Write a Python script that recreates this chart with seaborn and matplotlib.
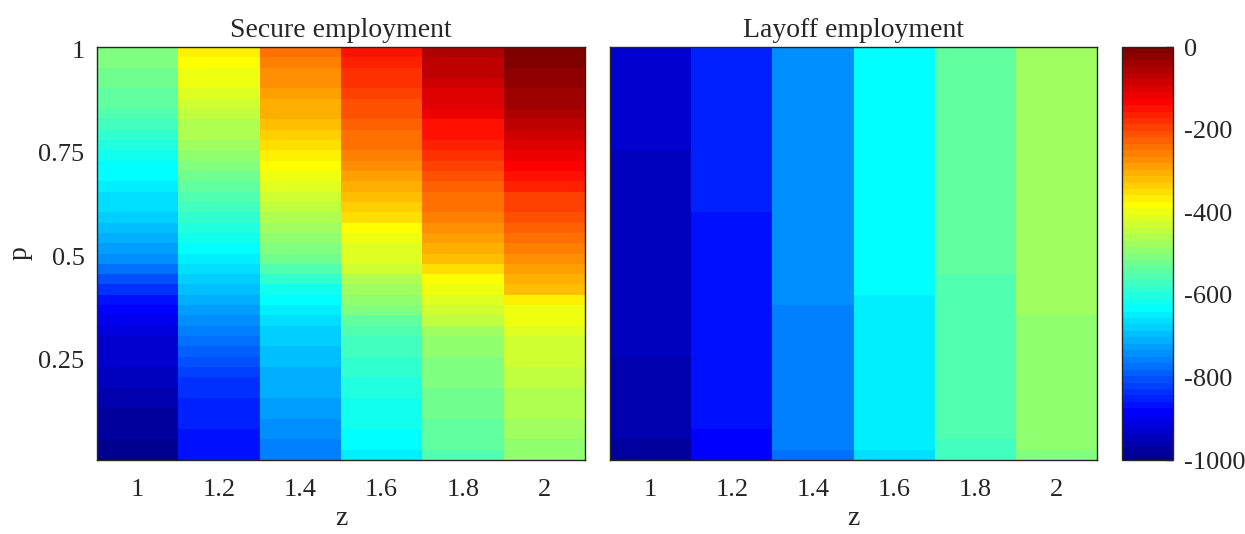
import numpy as np
import pandas as pd
import matplotlib
matplotlib.use("Agg")
import matplotlib.pyplot as plt
import seaborn as sns
from matplotlib.colors import ListedColormap

sns.set_style("white")
plt.rcParams["font.family"] = ["Liberation Serif", "DejaVu Serif"]
plt.rcParams["axes.unicode_minus"] = False

# ---- grid -------------------------------------------------------------
z_values = [1.0, 1.2, 1.4, 1.6, 1.8, 2.0]
z_labels = ["1", "1.2", "1.4", "1.6", "1.8", "2"]
p_values = np.round(np.arange(1, 41) * 0.025, 3)          # 0.025 ... 1.0 (ascending)
p_ticks = [1.0, 0.75, 0.5, 0.25]
p_ticklabels = ["1", "0.75", "0.5", "0.25"]
cbar_ticks = [0, -200, -400, -600, -800, -1000]
cbar_ticklabels = ["0", "-200", "-400", "-600", "-800", "-1000"]

# ---- Secure employment (one list per z, p ascending) ------------------
secure_z10 = [-992, -987, -982, -976, -970, -963, -956, -950, -944, -937,
              -930, -922, -913, -900, -886, -868, -840, -810, -780, -750,
              -730, -712, -697, -683, -670, -657, -647, -637, -627, -615,
              -600, -583, -568, -555, -545, -537, -530, -522, -514, -506]
secure_z12 = [-873, -868, -862, -857, -853, -849, -842, -832, -817, -805,
              -793, -780, -765, -745, -733, -718, -702, -685, -665, -652,
              -638, -625, -605, -590, -575, -558, -543, -528, -512, -496,
              -482, -468, -455, -448, -435, -418, -402, -392, -382, -375]
secure_z14 = [-762, -755, -745, -737, -730, -725, -718, -712, -704, -698,
              -693, -687, -677, -665, -650, -632, -610, -583, -555, -528,
              -510, -495, -480, -465, -450, -432, -415, -400, -388, -375,
              -352, -330, -318, -305, -297, -290, -280, -268, -258, -250]
secure_z16 = [-648, -640, -630, -624, -618, -613, -607, -600, -592, -585,
              -575, -563, -552, -535, -515, -497, -478, -455, -435, -418,
              -407, -392, -377, -356, -335, -318, -300, -285, -270, -258,
              -246, -235, -225, -215, -205, -195, -185, -175, -165, -155]
secure_z18 = [-560, -545, -537, -532, -527, -522, -518, -514, -510, -503,
              -495, -487, -475, -453, -437, -418, -400, -380, -350, -315,
              -300, -285, -272, -260, -247, -235, -222, -207, -195, -180,
              -165, -155, -142, -125, -105, -95, -87, -78, -70, -62]
secure_z20 = [-493, -485, -476, -472, -468, -464, -457, -450, -443, -437,
              -430, -424, -415, -405, -392, -370, -325, -305, -288, -268,
              -255, -240, -228, -210, -198, -188, -170, -150, -130, -115,
              -100, -80, -70, -57, -45, -35, -27, -20, -13, -6]

# ---- Layoff employment (one list per z, p ascending) ------------------
layoff_z10 = [-977, -977, -960, -960, -960, -960, -960, -960, -960, -960,
              -945, -945, -945, -945, -945, -945, -945, -945, -945, -945,
              -945, -945, -945, -945, -945, -945, -945, -945, -945, -945,
              -930, -930, -930, -930, -930, -930, -930, -930, -930, -930]
layoff_z12 = [-883, -883, -883, -867, -867, -867, -867, -867, -867, -867,
              -867, -867, -867, -867, -867, -867, -867, -867, -867, -867,
              -867, -867, -867, -867, -852, -852, -852, -852, -852, -852,
              -852, -852, -852, -852, -852, -852, -852, -852, -852, -852]
layoff_z14 = [-773, -758, -758, -758, -758, -758, -758, -758, -758, -758,
              -758, -758, -758, -758, -758, -742, -742, -742, -742, -742,
              -742, -742, -742, -742, -742, -742, -742, -742, -742, -742,
              -742, -742, -742, -742, -742, -742, -742, -742, -742, -742]
layoff_z16 = [-664, -648, -648, -648, -648, -648, -648, -648, -648, -648,
              -648, -648, -648, -648, -648, -648, -632, -632, -632, -632,
              -632, -632, -632, -632, -632, -632, -632, -632, -632, -632,
              -632, -632, -632, -632, -632, -632, -632, -632, -632, -632]
layoff_z18 = [-570, -570, -555, -555, -555, -555, -555, -555, -555, -555,
              -555, -555, -555, -555, -555, -555, -555, -555, -539, -539,
              -539, -539, -539, -539, -539, -539, -539, -539, -539, -539,
              -539, -539, -539, -539, -539, -539, -539, -539, -539, -539]
layoff_z20 = [-508, -492, -492, -492, -492, -492, -492, -492, -492, -492,
              -492, -492, -492, -492, -477, -477, -477, -477, -477, -477,
              -477, -477, -477, -477, -477, -477, -477, -477, -477, -477,
              -477, -477, -477, -477, -477, -477, -477, -477, -477, -477]

secure = pd.DataFrame(
    dict(zip(z_labels, [secure_z10, secure_z12, secure_z14,
                        secure_z16, secure_z18, secure_z20])),
    index=p_values).iloc[::-1]
layoff = pd.DataFrame(
    dict(zip(z_labels, [layoff_z10, layoff_z12, layoff_z14,
                        layoff_z16, layoff_z18, layoff_z20])),
    index=p_values).iloc[::-1]


def matlab_jet(n=64):
    """Classic 64-step jet colour table."""
    m = int(np.ceil(n / 4))
    u = np.concatenate([np.arange(1, m + 1) / m, np.ones(m - 1),
                        np.arange(m, 0, -1) / m])
    g = int(np.ceil(m / 2)) - (1 if n % 4 == 1 else 0) + np.arange(1, len(u) + 1)
    r = g + m
    b = g - m
    J = np.zeros((n, 3))
    for ch, idx in enumerate([r, g, b]):
        ok = (idx >= 1) & (idx <= n)
        J[idx[ok] - 1, ch] = u[ok]
    return ListedColormap(J)


cmap = matlab_jet(64)
edge = "#262626"
fs = 19

fig = plt.figure(figsize=(12.45, 5.34), dpi=100)
W, H = 1245, 534
ax1 = fig.add_axes([97 / W, 74 / H, 488 / W, 413 / H])
ax2 = fig.add_axes([610 / W, 74 / H, 487 / W, 413 / H])
cax = fig.add_axes([1122 / W, 74 / H, 51 / W, 413 / H])

sns.heatmap(secure, ax=ax1, cmap=cmap, vmin=-1000, vmax=0, cbar=False)
sns.heatmap(layoff, ax=ax2, cmap=cmap, vmin=-1000, vmax=0, cbar_ax=cax)

n_rows = len(p_values)
ytick_pos = [(1.0 - t) / 0.025 + 0.5 for t in p_ticks]

for ax, title in [(ax1, "Secure employment"), (ax2, "Layoff employment")]:
    ax.set_xticks(np.arange(len(z_values)) + 0.5)
    ax.set_xticklabels(z_labels, rotation=0, fontsize=fs)
    ax.set_xlabel("z", fontsize=fs + 1, labelpad=3)
    ax.set_title(title, fontsize=fs + 1, pad=7)
    for s in ax.spines.values():
        s.set_visible(True)
        s.set_color(edge)
        s.set_linewidth(1.0)
    ax.set_xlim(0, len(z_values))
    ax.set_ylim(n_rows, 0)

ax1.set_yticks(ytick_pos)
ax1.set_yticklabels(p_ticklabels, rotation=0, fontsize=fs)
ax1.set_ylabel("p", fontsize=fs + 1, labelpad=4)
ax1.tick_params(axis="y", direction="in", length=5, width=1, color=edge,
                left=True, right=True, pad=9, labelcolor="#262626")
ax1.tick_params(axis="x", direction="in", length=5, width=1, color=edge,
                top=True, bottom=True, pad=14, labelcolor="#262626")
ax2.set_yticks([])
ax2.set_ylabel("")
ax2.tick_params(axis="x", direction="in", length=5, width=1, color=edge,
                top=True, bottom=True, pad=14, labelcolor="#262626")

cb = ax2.collections[0].colorbar
cb.set_ticks(cbar_ticks)
cb.set_ticklabels(cbar_ticklabels)
cb.outline.set_linewidth(1.0)
cb.outline.set_edgecolor(edge)
cb.ax.tick_params(direction="in", length=5, width=1, color=edge,
                  labelsize=fs, pad=8, labelcolor="#262626")

fig.savefig("out.png", dpi=100)
